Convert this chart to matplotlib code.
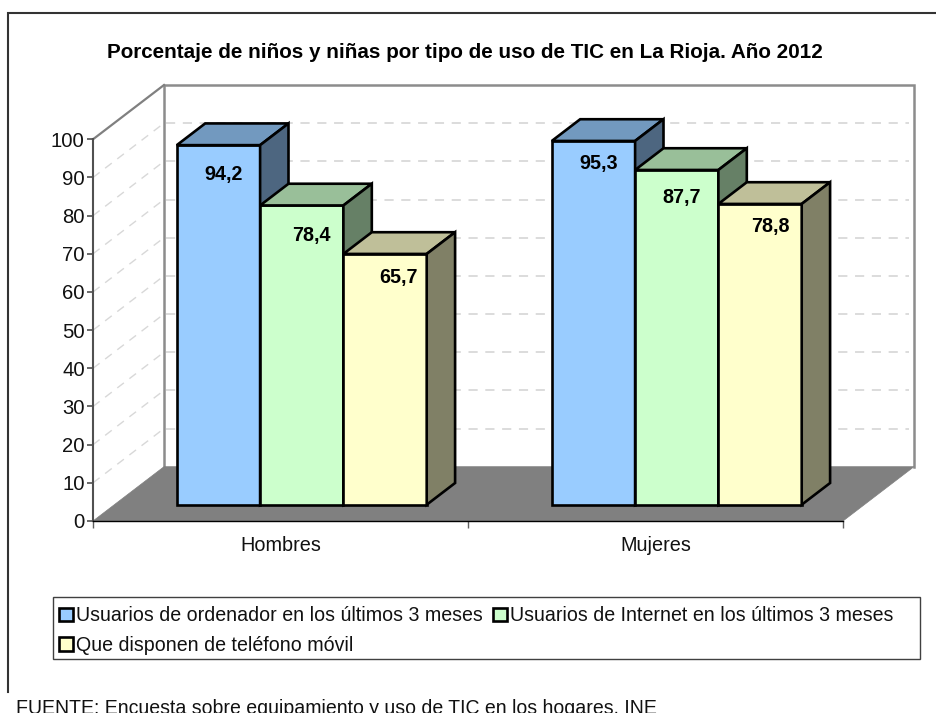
import matplotlib
matplotlib.use("Agg")
import matplotlib.pyplot as plt
from matplotlib.patches import Patch, Polygon, Rectangle
from matplotlib.lines import Line2D

plt.rcParams['font.family'] = ['Liberation Sans', 'DejaVu Sans']

# Data
categories = ['Hombres', 'Mujeres']
series_names = ['Usuarios de ordenador en los últimos 3 meses',
                'Usuarios de Internet en los últimos 3 meses',
                'Que disponen de teléfono móvil']
ordenador = [94.2, 95.3]
internet = [78.4, 87.7]
movil = [65.7, 78.8]
y_ticks = list(range(0, 101, 10))

# Colours per series: front, top, side
FACES = [('#99CCFF', '#7299BF', '#4D6680'),
         ('#CCFFCC', '#99BF99', '#668066'),
         ('#FFFFCC', '#BFBF99', '#808066')]

# Fake 3D box geometry, in axis units (x = categories, y = percent)
DEPTH_X = 71 / 375
DEPTH_Y = 54.3 / 3.817
BAR_W = 83.3 / 375
GAP = 62.5 / 375
BAR_NEAR = 0.3
BAR_FAR = 0.7

# Value labels sit by hand inside the bars, offsets in pixels
label_offsets = [[(5, -29), (5, -23)],
                 [(10, -30), (5, -28)],
                 [(13, -24), (10, -23)]]


def project(x, y, depth):
    return (x + depth * DEPTH_X, y + depth * DEPTH_Y)


def draw_poly(ax, pts, face, edge='black', lw=1.9, z=3):
    ax.add_patch(Polygon(pts, closed=True, facecolor=face, edgecolor=edge,
                         linewidth=lw, joinstyle='miter', clip_on=False, zorder=z))


def draw_box(ax, x0, value, colours, z):
    x1 = x0 + BAR_W
    front, top, side = colours
    draw_poly(ax, [project(x0, 0, BAR_NEAR), project(x1, 0, BAR_NEAR),
                   project(x1, value, BAR_NEAR), project(x0, value, BAR_NEAR)], front, z=z)
    draw_poly(ax, [project(x0, value, BAR_NEAR), project(x1, value, BAR_NEAR),
                   project(x1, value, BAR_FAR), project(x0, value, BAR_FAR)], top, z=z)
    draw_poly(ax, [project(x1, 0, BAR_NEAR), project(x1, 0, BAR_FAR),
                   project(x1, value, BAR_FAR), project(x1, value, BAR_NEAR)], side, z=z)


W, H = 936, 713
fig = plt.figure(figsize=(W / 100, H / 100), dpi=100, facecolor='white')
ax = fig.add_axes([93 / W, (H - 521) / H, 750 / W, 381.7 / H])
ax.set_xlim(0, len(categories))
ax.set_ylim(0, 100)
ax.patch.set_visible(False)

# Walls and floor
wall_grey = '#8C8C8C'
n = len(categories)
ax.plot([project(0, 0, 1)[0], project(0, 100, 1)[0], project(n, 100, 1)[0], project(n, 0, 1)[0]],
        [project(0, 0, 1)[1], project(0, 100, 1)[1], project(n, 100, 1)[1], project(n, 0, 1)[1]],
        color=wall_grey, lw=1.8, clip_on=False, zorder=1, solid_joinstyle='miter')
ax.plot([0, project(0, 100, 1)[0]], [100, project(0, 100, 1)[1]],
        color='#808080', lw=1.6, clip_on=False, zorder=1)
draw_poly(ax, [project(0, 0, 0), project(n, 0, 0), project(n, 0, 1), project(0, 0, 1)],
          '#808080', edge='#808080', lw=0.5, z=1.5)

# Dashed grid on side wall and back wall
for v in y_ticks[1:-1]:
    sx, sy = project(0, v, 1)
    ax.plot([0, sx], [v, sy], color='#D8D8D8', lw=1, ls=(0, (6, 5)), clip_on=False, zorder=1)
    ax.plot([sx + 0.005, n + DEPTH_X - 0.013], [sy, sy], color='#D2D2D2', lw=1.1,
            ls=(0, (6, 5)), clip_on=False, zorder=1)

# Bars
for s, values in enumerate([ordenador, internet, movil]):
    for c, value in enumerate(values):
        x0 = c + GAP + s * BAR_W
        draw_box(ax, x0, value, FACES[s], 3 + c + s * 0.1)

# Value labels
for s, values in enumerate([ordenador, internet, movil]):
    for c, value in enumerate(values):
        x0 = c + GAP + s * BAR_W
        px, py = project(x0 + BAR_W / 2, value, BAR_NEAR)
        off = label_offsets[s][c]
        ax.annotate(f'{value:.1f}'.replace('.', ','), (px, py), xytext=off,
                    textcoords='offset pixels', ha='center', va='center',
                    fontsize=14.2, fontweight='bold', color='black',
                    annotation_clip=False, zorder=10)

# Axes
for side in ('top', 'right'):
    ax.spines[side].set_visible(False)
ax.spines['left'].set_color('#505050')
ax.spines['left'].set_linewidth(1.5)
ax.spines['bottom'].set_color('black')
ax.spines['bottom'].set_linewidth(1.0)
ax.set_yticks(y_ticks)
ax.tick_params(axis='y', length=4.5, width=1.2, color='#505050', labelsize=14.6, pad=1.5,
               labelcolor='#111111')
ax.set_xticks(range(n + 1))
ax.set_xticklabels([])
ax.tick_params(axis='x', length=5, width=1, color='#606060')
ax.set_xticks([i + 0.5 for i in range(n)], minor=True)
ax.set_xticklabels(categories, minor=True)
ax.tick_params(axis='x', which='minor', length=0, labelsize=14.3, pad=11, labelcolor='#111111')

# Legend box, then entries; column order puts the third series under the first
fig.add_artist(Rectangle((52.5 / W, (H - 659) / H), 867.5 / W, 62 / H, transform=fig.transFigure,
                         facecolor='white', edgecolor='#404040', linewidth=1))
handles = [Patch(facecolor=FACES[i][0], edgecolor='black', linewidth=1.9, label=series_names[i])
           for i in (0, 2, 1)]
leg = fig.legend(handles=handles, ncol=2, loc='lower left',
                 bbox_to_anchor=(59 / W, (H - 655) / H), fontsize=14.1,
                 frameon=False, handlelength=0.7, handleheight=0.7, handletextpad=0.15,
                 columnspacing=0.55, borderpad=0, labelspacing=0.55, borderaxespad=0)
for t in leg.get_texts():
    t.set_color('#111111')

# Outer chart frame, open to the right
fig.add_artist(Line2D([8 / W, 8 / W, 1], [(H - 692) / H, (H - 13) / H, (H - 13) / H],
                      color='#333333', lw=1.5, solid_joinstyle='miter'))

fig.text(465 / W, (H - 52.5) / H, 'Porcentaje de niños y niñas por tipo de uso de TIC en La Rioja. Año 2012',
         ha='center', va='center', fontsize=14.9, fontweight='bold', color='black')
fig.text(16 / W, (H - 714) / H, 'FUENTE: Encuesta sobre equipamiento y uso de TIC en los hogares. INE',
         ha='left', va='baseline', fontsize=14.05, color='#111111')

fig.savefig('out.png', dpi=100)
